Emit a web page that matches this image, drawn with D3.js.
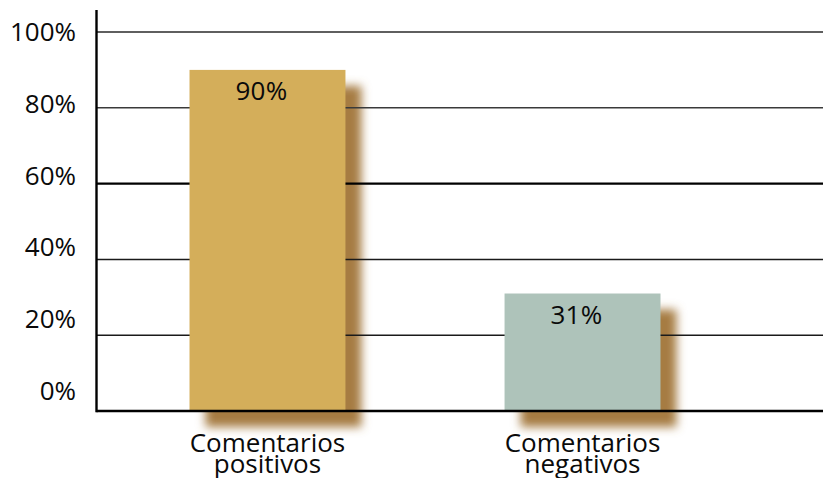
<!DOCTYPE html>
<html>
<head>
<meta charset="utf-8">
<script src="https://cdn.jsdelivr.net/npm/d3@7/dist/d3.min.js"></script>
<style>
  html, body { margin: 0; padding: 0; background: #fff; }
  svg { display: block; }
  text { font-family: "Open Sans", "Noto Sans", sans-serif; fill: #0a0a0a; }
</style>
</head>
<body>
<svg id="chart" width="823" height="478"></svg>
<script>
// Share of comments by tone
const categories = [["Comentarios", "positivos"], ["Comentarios", "negativos"]];
const values = [90, 31];
const valueLabels = ["90%", "31%"];
const barColors = ["#d4ae5a", "#aec3ba"];
const tickValues = [0, 20, 40, 60, 80, 100];
const tickLabels = ["0%", "20%", "40%", "60%", "80%", "100%"];

const axisX = 96.5, baseY = 411, right = 823;

const svg = d3.select("#chart");

const x = d3.scaleBand()
  .domain(d3.range(categories.length))
  .range([95, 755])
  .paddingInner(0.505)
  .paddingOuter(0.3);

const y = d3.scaleLinear().domain([0, 100]).range([baseY, 32]);
// tick text sits on an evenly spaced column of its own
const labelY = d3.scaleLinear().domain([0, 100]).range([400, 41]);

// soft drop shadow behind each bar
const defs = svg.append("defs");
defs.append("filter")
  .attr("id", "soft")
  .attr("x", "-30%").attr("y", "-30%")
  .attr("width", "160%").attr("height", "160%")
  .append("feGaussianBlur").attr("stdDeviation", 5);

const shadowOff = 16;
svg.append("g").selectAll("rect")
  .data(values)
  .join("rect")
  .attr("x", (d, i) => x(i) + shadowOff)
  .attr("y", d => y(d) + shadowOff)
  .attr("width", x.bandwidth())
  .attr("height", d => baseY - y(d))
  .attr("fill", "#a67b43")
  .attr("filter", "url(#soft)");

// horizontal rules
const gridStyle = {
  0: { w: 2.5, c: "#000" },
  20: { w: 1.5, c: "#1a1a1a" },
  40: { w: 1.5, c: "#1a1a1a" },
  60: { w: 2.2, c: "#000" },
  80: { w: 1.5, c: "#3a3a3a" },
  100: { w: 1.5, c: "#2a2a2a" }
};
svg.append("g").selectAll("line")
  .data(tickValues.filter(v => v !== 0))
  .join("line")
  .attr("x1", axisX).attr("x2", right)
  .attr("y1", d => y(d)).attr("y2", d => y(d))
  .attr("stroke", d => gridStyle[d].c)
  .attr("stroke-width", d => gridStyle[d].w);

// bars
svg.append("g").selectAll("rect")
  .data(values)
  .join("rect")
  .attr("x", (d, i) => x(i))
  .attr("y", d => y(d))
  .attr("width", x.bandwidth())
  .attr("height", d => baseY - y(d))
  .attr("fill", (d, i) => barColors[i]);

// baseline and vertical axis
svg.append("line")
  .attr("x1", axisX).attr("x2", right)
  .attr("y1", y(0)).attr("y2", y(0))
  .attr("stroke", gridStyle[0].c)
  .attr("stroke-width", gridStyle[0].w);
svg.append("line")
  .attr("x1", axisX).attr("x2", axisX)
  .attr("y1", 10).attr("y2", y(0) + 1.2)
  .attr("stroke", "#000")
  .attr("stroke-width", 2.4);

// tick labels
svg.append("g").selectAll("text")
  .data(tickValues)
  .join("text")
  .attr("x", 76)
  .attr("y", d => labelY(d))
  .attr("text-anchor", "end")
  .attr("font-size", 26)
  .text((d, i) => tickLabels[i]);

// value labels inside the bars
svg.append("g").selectAll("text")
  .data(values)
  .join("text")
  .attr("x", (d, i) => x(i) + x.bandwidth() / 2 - 6)
  .attr("y", d => y(d) + 30)
  .attr("text-anchor", "middle")
  .attr("font-size", 26)
  .attr("letter-spacing", 0.3)
  .text((d, i) => valueLabels[i]);

// category labels, two tight lines each
const cat = svg.append("g").selectAll("text")
  .data(categories)
  .join("text")
  .attr("text-anchor", "middle")
  .attr("font-size", 26);
cat.selectAll("tspan")
  .data((d, i) => d.map(s => ({ s, i })))
  .join("tspan")
  .attr("x", d => x(d.i) + x.bandwidth() / 2)
  .attr("y", (d, j) => 452 + j * 21)
  .text(d => d.s);
</script>
</body>
</html>
